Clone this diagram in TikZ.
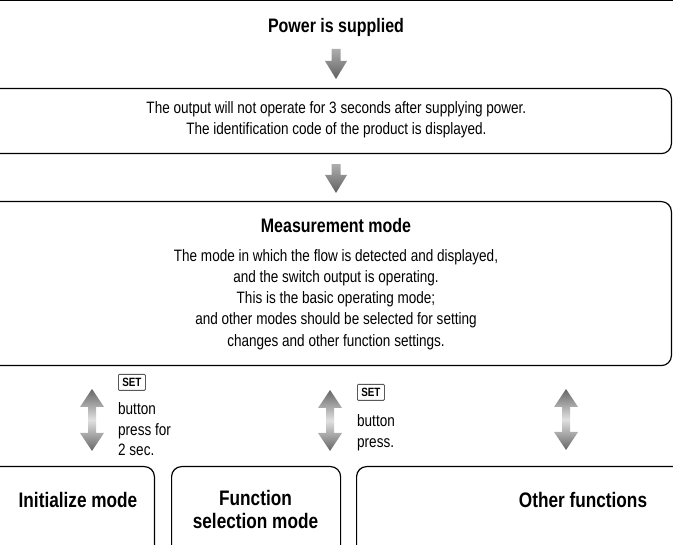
\documentclass[tikz,border=0pt]{standalone}
\usepackage{fontspec}
\setmainfont{Liberation Sans}[FakeStretch=0.82]
\usetikzlibrary{positioning, calc}
\tikzset{
  frame/.style={draw, line width=1.2pt, rounded corners=10pt, inner sep=0pt},
  title/.style={align=center, inner sep=0pt, font=\fontsize{19.5}{23}\selectfont\bfseries},
  modetitle/.style={align=center, inner sep=0pt, font=\fontsize{21}{23}\selectfont\bfseries},
  body/.style={align=center, inner sep=0pt, font=\fontsize{16.5}{21.2}\selectfont},
  note/.style={anchor=base west, inner sep=0pt, font=\fontsize{16.5}{20.5}\selectfont},
  setkey/.style={draw=black!65, line width=0.8pt, rounded corners=1pt, anchor=north west,
                 minimum width=27pt, minimum height=16pt, inner sep=0pt,
                 font=\fontsize{12}{12}\selectfont\bfseries},
  arrowfill/.style={top color=black!32, bottom color=black!62},
  dblfill/.style={top color=black!60, bottom color=black!60, middle color=black!12}
}
% gray shaded arrows, #1 = upper end, #2 = lower end
\newcommand{\grayarrow}[2]{%
  \shade[arrowfill] let \p1=(#1), \p2=(#2) in
    (\x1-4.5pt,\y1) -- (\x1+4.5pt,\y1) -- (\x1+4.5pt,\y2+18pt) -- (\x1+11pt,\y2+18pt)
    -- (\x1,\y2) -- (\x1-11pt,\y2+18pt) -- (\x1-4.5pt,\y2+18pt) -- cycle;}
\newcommand{\twoarrow}[2]{%
  \shade[dblfill] let \p1=(#1), \p2=(#2) in
    (\x1,\y1) -- (\x1+12pt,\y1-18pt) -- (\x1+4pt,\y1-18pt) -- (\x1+4pt,\y2+18pt)
    -- (\x1+12pt,\y2+18pt) -- (\x1,\y2) -- (\x1-12pt,\y2+18pt) -- (\x1-4pt,\y2+18pt)
    -- (\x1-4pt,\y1-18pt) -- (\x1-12pt,\y1-18pt) -- cycle;}

\begin{document}
\begin{tikzpicture}[x=1pt, y=-1pt]
  \useasboundingbox (0,0) rectangle (673,545);
  \clip (0,0) rectangle (673,545);

  % Power on
  \draw[line width=1.4pt] (-10,0.5) -- (683,0.5);
  \node[title, anchor=base] (pwr) at (336,33) {Power is supplied};

  % Start-up box
  \node[frame, minimum width=700pt, minimum height=65pt, anchor=north east] (f2) at (672,88) {};
  \node[body] (wait) at ($(f2.center)+(15,-1)$)
        {The output will not operate for 3 seconds after supplying power.\\
         The identification code of the product is displayed.};

  % Measurement mode box
  \node[frame, minimum width=700pt, minimum height=164pt, anchor=north east] (f3) at (672,201) {};
  \node[title, anchor=base] (meas) at (336,232.5) {Measurement mode};
  \node[body] (measbody) at (336,299.5)
        {The mode in which the flow is detected and displayed,\\
         and the switch output is operating.\\
         This is the basic operating mode;\\
         and other modes should be selected for setting\\
         changes and other function settings.};

  % Lower modes
  \node[frame, minimum width=200pt, minimum height=100pt, anchor=north east] (fInit) at (155,466) {};
  \node[frame, minimum width=169pt, minimum height=100pt, anchor=north west] (fFunc) at (171,466) {};
  \node[frame, minimum width=350pt, minimum height=100pt, anchor=north west] (fOther) at (356,466) {};
  \node[modetitle, anchor=base] (init) at (78,508) {Initialize mode};
  \node[modetitle] (func) at (255.5,509) {Function\\selection mode};
  \node[modetitle, anchor=base] (other) at (583,508) {Other functions};

  % Arrows down
  \grayarrow{$(pwr.base)+(0,16)$}{$(f2.north -| pwr)+(0,-9)$}
  \grayarrow{$(f2.south -| pwr)+(0,10)$}{$(f3.north -| pwr)+(0,-8)$}

  % Arrows between modes
  \coordinate (upA) at (92,389);   \coordinate (dnA) at (92,451);
  \coordinate (upB) at (330,390);  \coordinate (dnB) at (330,451);
  \coordinate (upC) at (566,389);  \coordinate (dnC) at (566,450);
  \twoarrow{upA}{dnA}
  \twoarrow{upB}{dnB}
  \twoarrow{upC}{dnC}

  % Button notes
  \node[setkey] (setA) at (118,374) {SET};
  \node[note] (btnA) at (118,415) {button};
  \node[note] (pressA) at (118,435.5) {press for};
  \node[note] (secA) at (118,456) {2 sec.};
  \node[setkey] (setB) at (357,384) {SET};
  \node[note] (btnB) at (357,427) {button};
  \node[note] (pressB) at (357,447.5) {press.};
\end{tikzpicture}
\end{document}
